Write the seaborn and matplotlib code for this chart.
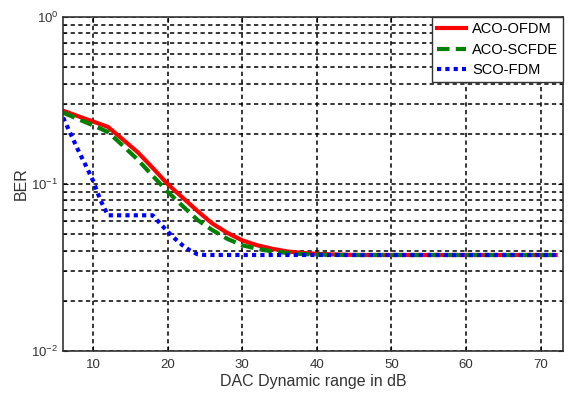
import numpy as np
import pandas as pd
import seaborn as sns
from matplotlib import pyplot as plt
from matplotlib.ticker import LogLocator, NullFormatter

# DAC dynamic range (dB)
x_aco = [6, 8, 10, 12, 14, 16, 18, 20, 22, 24, 26, 28, 30, 32, 34, 36, 38, 40, 42, 44, 46, 50, 60, 72]
ber_ofdm = [0.275, 0.255, 0.237, 0.22, 0.185, 0.155, 0.125, 0.100, 0.083, 0.069, 0.058, 0.051, 0.046,
            0.043, 0.041, 0.0395, 0.0387, 0.0382, 0.0379, 0.0377, 0.0376, 0.0376, 0.0376, 0.0376]
ber_scfde = [0.268, 0.245, 0.225, 0.205, 0.170, 0.140, 0.112, 0.090, 0.074, 0.061, 0.053, 0.047, 0.043,
             0.041, 0.0395, 0.0387, 0.0381, 0.0378, 0.0377, 0.0376, 0.0376, 0.0376, 0.0376, 0.0376]

x_sco = [6, 7, 8, 9, 10, 11, 12, 14, 16, 18, 19, 20, 21, 22, 23, 24, 25, 30, 40, 50, 60, 72]
ber_sco = [0.25, 0.20, 0.16, 0.13, 0.105, 0.08, 0.065, 0.065, 0.065, 0.065, 0.058, 0.052, 0.047,
           0.043, 0.040, 0.038, 0.0376, 0.0376, 0.0376, 0.0376, 0.0376, 0.0376]

plt.rcParams['font.family'] = ['Liberation Sans', 'DejaVu Sans']
fig = plt.figure(figsize=(5.74, 3.98), dpi=100)
ax = fig.add_axes([0.110, 0.118, 0.871, 0.839])

sns.lineplot(x=x_aco, y=ber_ofdm, color='red', linewidth=3, label='ACO-OFDM', ax=ax)
sns.lineplot(x=x_aco, y=ber_scfde, color='green', linewidth=3, linestyle=(0, (3, 1.5)),
             label='ACO-SCFDE', ax=ax)
sns.lineplot(x=x_sco, y=ber_sco, color='blue', linewidth=3, linestyle=(0, (1, 1)),
             label='SCO-FDM', ax=ax)

ax.set_yscale('log')
ax.set_ylim(1e-2, 1)
ax.set_xlim(6, 73)
ax.set_xticks([10, 20, 30, 40, 50, 60, 70])
ax.yaxis.set_major_locator(LogLocator(base=10))
ax.yaxis.set_minor_locator(LogLocator(base=10, subs=np.arange(2, 10)))
ax.yaxis.set_minor_formatter(NullFormatter())

ax.grid(True, which='major', color='black', linestyle=(0, (2.8, 2.2)), linewidth=1.1)
ax.grid(True, which='minor', axis='y', color='black', linestyle=(0, (2.8, 2.2)), linewidth=1.1)
ax.tick_params(which='both', direction='in', labelsize=9.5, labelcolor='#333333', colors='black',
               top=True, right=True)
ax.tick_params(axis='x', pad=6)
for s in ax.spines.values():
    s.set_color('#333333')
    s.set_linewidth(1.2)

ax.set_xlabel('DAC Dynamic range in dB', fontsize=11.5, color='#333333', labelpad=2)
ax.set_ylabel('BER', fontsize=11.5, color='#333333', labelpad=2)

leg = ax.legend(loc='upper right', fontsize=10.5, frameon=True, fancybox=False, borderaxespad=0,
                handlelength=2.0, handletextpad=0.4, borderpad=0.35, labelspacing=0.45)
leg.get_frame().set_edgecolor('#333333')
leg.get_frame().set_linewidth(1)
leg.get_frame().set_alpha(1)

fig.savefig('out.png', dpi=100)
